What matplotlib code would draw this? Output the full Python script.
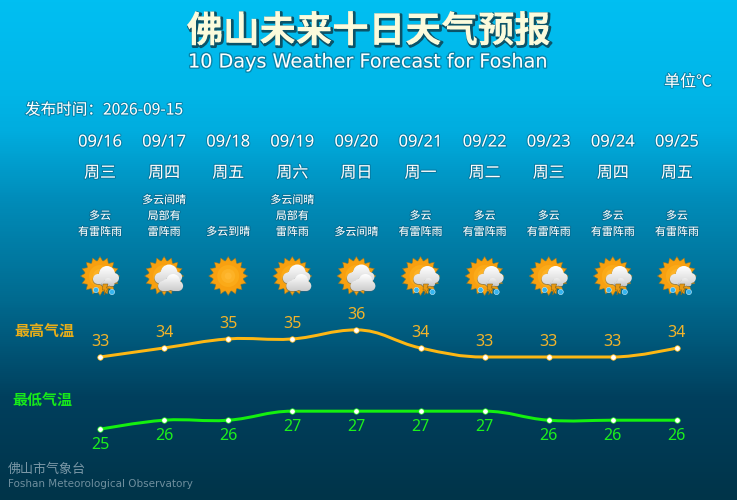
import numpy as np
import matplotlib
matplotlib.use('Agg')
import matplotlib.pyplot as plt
import matplotlib.patheffects as pe
from matplotlib.path import Path
from matplotlib.patches import PathPatch, Polygon, Circle
from matplotlib.colors import LinearSegmentedColormap

plt.rcParams['font.family'] = ['Noto Sans CJK SC', 'DejaVu Sans']

dates = ['09/16', '09/17', '09/18', '09/19', '09/20', '09/21', '09/22', '09/23', '09/24', '09/25']
weekdays = ['周三', '周四', '周五', '周六', '周日', '周一', '周二', '周三', '周四', '周五']
weather = ['多云\n有雷阵雨', '多云间晴\n局部有\n雷阵雨', '多云到晴', '多云间晴\n局部有\n雷阵雨', '多云间晴',
           '多云\n有雷阵雨', '多云\n有雷阵雨', '多云\n有雷阵雨', '多云\n有雷阵雨', '多云\n有雷阵雨']
icons = ['storm', 'cloud', 'sun', 'cloud', 'cloud', 'storm', 'storm', 'storm', 'storm', 'storm']
high = [33, 34, 35, 35, 36, 34, 33, 33, 33, 34]
low = [25, 26, 26, 27, 27, 27, 27, 26, 26, 26]

W, H = 737, 500
X0, DX = 100, 64.1
Y33, DY = 357, 9.03


def px(size):
    return size * 0.72


def day_x(i):
    return X0 + DX * i


fig = plt.figure(figsize=(W / 100, H / 100), dpi=100)
ax = fig.add_axes([0, 0, 1, 1])
ax.axis('off')

# background
bg = LinearSegmentedColormap.from_list('bg', [
    (0, '#00bff2'), (0.18, '#00b6e8'), (0.26, '#00addf'), (0.4, '#008cb9'),
    (0.6, '#006a8f'), (0.8, '#003f5d'), (1, '#003449')])
ax.imshow(np.linspace(0, 1, 500).reshape(-1, 1), cmap=bg, extent=(0, W, H, 0), aspect='auto', zorder=0)


def grad_fill(path, y0, y1, c0, c1, z):
    cm = LinearSegmentedColormap.from_list('g', [c0, c1])
    x0 = path.vertices[:, 0].min() - 1
    x1 = path.vertices[:, 0].max() + 1
    im = ax.imshow(np.linspace(0, 1, 30).reshape(-1, 1), cmap=cm, extent=(x0, x1, y1, y0),
                   aspect='auto', zorder=z)
    im.set_clip_path(PathPatch(path, transform=ax.transData))


def draw_sun(cx, cy):
    n = 16
    ang = np.arange(2 * n) * np.pi / n - np.pi / 2
    r = np.where(np.arange(2 * n) % 2 == 0, 19.5, 15)
    pts = np.c_[cx + r * np.cos(ang), cy + r * np.sin(ang)]
    ax.add_patch(Polygon(pts, fc='#f5a00e', ec='#80743a', lw=0.4, zorder=2))
    for rad, col in [(15, '#f8a010'), (11, '#fbaa18'), (7, '#fdb226'), (3.5, '#ffb832')]:
        ax.add_patch(Circle((cx, cy), rad, fc=col, ec='none', zorder=2))


def draw_cloud(cx, cy, parts, c0='#ffffff', c1='#cfcfcf', z=3):
    parts = [(cx + x, cy + y, r) for x, y, r in parts]
    ys = [p[1] - p[2] for p in parts] + [p[1] + p[2] for p in parts]
    shadow = Path.make_compound_path(*[Path.circle((x - 0.4, y + 0.8), r) for x, y, r in parts])
    ax.add_patch(PathPatch(shadow, fc='#50626c', ec='none', alpha=0.55, zorder=z))
    clip = Path.make_compound_path(*[Path.circle((x, y), r) for x, y, r in parts])
    grad_fill(clip, min(ys), max(ys), c0, c1, z + 0.1)


def draw_icon(kind, cx, cy):
    draw_sun(cx, cy)
    if kind == 'cloud':
        draw_cloud(cx, cy, [(5, -3, 8.5), (-4, 2, 5.5), (13, 1, 5), (0, 1, 6), (8, 2, 6)], '#ffffff', '#d2d2d2', 3)
        draw_cloud(cx, cy, [(9, 5, 7), (-1, 10, 5), (14, 10, 5), (3, 9, 6), (10, 9, 6)], '#ffffff', '#cdcdcd', 3.5)
    elif kind == 'storm':
        draw_cloud(cx, cy, [(7, -2, 8), (-2, 3, 5), (14, 2, 5), (3, 3, 6), (10, 4, 5)], '#ffffff', '#d4d4d4', 3)
        draw_cloud(cx, cy, [(8, 6, 4), (4, 8, 2.5), (12, 8, 2.5)], '#f4f4f4', '#c8c8c8', 3.5)
        ax.add_patch(Polygon([(cx + 3, cy + 8), (cx + 8, cy + 8), (cx + 6.5, cy + 12), (cx + 8.5, cy + 12),
                              (cx + 4, cy + 19), (cx + 4.8, cy + 14), (cx + 2.5, cy + 14)],
                             fc='#e89a14', ec='#8a6414', lw=0.4, zorder=5))
        for dx, dy in [(-4, 14), (12, 16)]:
            ax.add_patch(Circle((cx + dx, cy + dy), 2.6, fc='#36b4ee', ec='#c6ecff', lw=0.4, zorder=5))


for i, kind in enumerate(icons):
    draw_icon(kind, day_x(i), 276)

halo = [pe.withStroke(linewidth=1.5, foreground='#0a5f80', alpha=0.55)]
en = ['DejaVu Sans', 'Noto Sans CJK SC']
num = ['Noto Sans', 'Noto Sans CJK SC']

# title
ax.text(368.5, 31.5, '佛山未来十日天气预报', fontsize=px(36.4), fontweight='bold', color='#fbfbdc', ha='center',
        va='center', zorder=6,
        path_effects=[pe.Stroke(linewidth=2, foreground='#0b5368', offset=(1, -1)), pe.Normal()])
ax.text(367.5, 62, '10 Days Weather Forecast for Foshan', fontsize=px(19.2), color='white', ha='center',
        va='center', zorder=6, family=en, path_effects=[pe.withStroke(linewidth=2, foreground='#0a6f90', alpha=0.7)])
ax.text(712, 82, '单位℃', fontsize=px(16), color='white', ha='right', va='center', zorder=6, path_effects=halo)
ax.text(25, 110, '发布时间\uff1a2026-09-15', fontsize=px(15.6), color='white', ha='left', va='center', zorder=6, path_effects=halo)

# table rows
for i in range(len(dates)):
    ax.text(day_x(i), 142.5, dates[i], fontsize=px(16.5), color='white', ha='center', va='center', zorder=6, family=num, path_effects=halo)
    ax.text(day_x(i), 173, weekdays[i], fontsize=px(16), color='white', ha='center', va='center', zorder=6, path_effects=halo)
    lines = weather[i].split('\n')
    for j, line in enumerate(lines[::-1]):
        ax.text(day_x(i), 232 - 16 * j, line, fontsize=px(11), color='white', ha='center', va='center', zorder=6, path_effects=halo)

ax.text(44.5, 331, '最高气温', fontsize=px(15), fontweight='bold', color='#e8ae1a', ha='center', va='center', zorder=6)
ax.text(42.5, 400, '最低气温', fontsize=px(15), fontweight='bold', color='#17e81b', ha='center', va='center', zorder=6)
ax.text(8, 469, '佛山市气象台', fontsize=px(13), color='#7a97a6', ha='left', va='center', zorder=6)
ax.text(8, 484, 'Foshan Meteorological Observatory', fontsize=px(10.4), color='#6f8f9e', ha='left', va='center', zorder=6, family=en)

ax.set_xlim(0, W)
ax.set_ylim(H, 0)

# temperature lines
ax2 = fig.add_axes([0, 0, 1, 1], facecolor='none')
ax2.axis('off')
ax2.set_xlim(-X0 / DX, (W - X0) / DX)
ax2.set_ylim(33 - (H - Y33) / DY, 33 + Y33 / DY)


def spline_path(xs, ys, loose, smoothing=1.5):
    n = len(xs)
    ctrl = []
    for i in range(n):
        if i == 0 or i == n - 1:
            ctrl.append(((xs[i], ys[i]), (xs[i], ys[i])))
            continue
        d = smoothing + 1
        lx = (smoothing * xs[i] + xs[i - 1]) / d
        ly = (smoothing * ys[i] + ys[i - 1]) / d
        rx = (smoothing * xs[i] + xs[i + 1]) / d
        ry = (smoothing * ys[i] + ys[i + 1]) / d
        corr = (ry - ly) * (rx - xs[i]) / (rx - lx) + ys[i] - ry
        ly += corr
        ry += corr
        # points not in loose keep control points from overshooting the neighbour
        if i not in loose:
            if ly > max(ys[i - 1], ys[i]):
                ly = max(ys[i - 1], ys[i])
                ry = 2 * ys[i] - ly
            elif ly < min(ys[i - 1], ys[i]):
                ly = min(ys[i - 1], ys[i])
                ry = 2 * ys[i] - ly
            if ry > max(ys[i + 1], ys[i]):
                ry = max(ys[i + 1], ys[i])
                ly = 2 * ys[i] - ry
            elif ry < min(ys[i + 1], ys[i]):
                ry = min(ys[i + 1], ys[i])
                ly = 2 * ys[i] - ry
        ctrl.append(((lx, ly), (rx, ry)))
    verts = [(xs[0], ys[0])]
    codes = [Path.MOVETO]
    for i in range(1, n):
        verts += [ctrl[i - 1][1], ctrl[i][0], (xs[i], ys[i])]
        codes += [Path.CURVE4, Path.CURVE4, Path.CURVE4]
    return Path(verts, codes)


days = np.arange(len(high))
for vals, col, txt, off, loose in [(high, '#fdb714', '#f2b32a', 15, (2, 3)), (low, '#14f00f', '#1cf01c', -16, (1, 2, 7))]:
    ax2.add_patch(PathPatch(spline_path(days, vals, loose), fc='none', ec=col, lw=px(3), zorder=3))
    ax2.plot(days, vals, 'o', ms=px(5.5), mfc='white', mec=col, mew=0.5, ls='none', zorder=4)
    for d, v in zip(days, vals):
        ax2.text(d, v + off / DY, str(v), ha='center', va='center', fontsize=px(16), color=txt, zorder=5, family=num)

fig.savefig('out.png', dpi=100)
